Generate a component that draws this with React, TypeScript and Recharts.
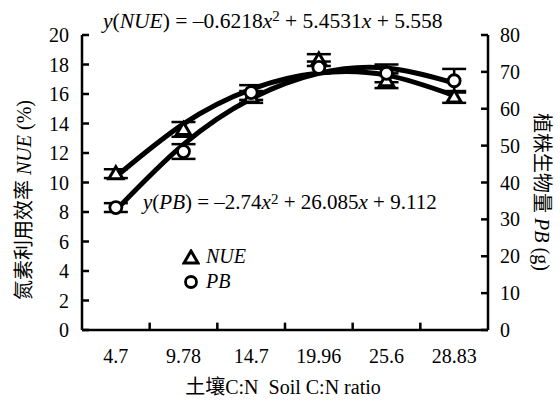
import React from 'react';
import {
  ComposedChart, Line, Scatter, XAxis, YAxis, ErrorBar, ReferenceLine, Legend, Customized,
} from 'recharts';

const categories = ['4.7', '9.78', '14.7', '19.96', '25.6', '28.83'];
const nueObserved = [10.6, 13.6, 15.8, 18.3, 16.9, 15.8];
const nueError = [0.3, 0.5, 0.4, 0.4, 0.5, 0.4];
const pbObserved = [33.2, 48.4, 64.4, 71.2, 69.6, 67.6];
const pbError = [1.2, 2.0, 2.0, 1.6, 2.4, 3.2];
const nueFit = [10.389, 13.976, 16.32, 17.42, 17.277, 15.89];
const pbFit = [32.457, 50.322, 62.707, 69.612, 71.037, 66.982];
const leftTicks = [0, 2, 4, 6, 8, 10, 12, 14, 16, 18, 20];
const rightTicks = [0, 10, 20, 30, 40, 50, 60, 70, 80];
const xTicks = [1, 2, 3, 4, 5, 6];
const boundaries = [1.5, 2.5, 3.5, 4.5, 5.5];

const rows = categories.map((c, i) => ({
  idx: i + 1,
  label: c,
  nue: nueObserved[i],
  nueErr: nueError[i],
  pb: pbObserved[i],
  pbErr: pbError[i],
  nueFit: nueFit[i],
  pbFit: pbFit[i],
}));

const SERIF = '"Liberation Serif", "DejaVu Serif", serif';
const CJK = '"Noto Sans CJK SC", sans-serif';

const Triangle = (props: any) => {
  const { cx, cy } = props;
  if (cx == null || cy == null) return null;
  return (
    <polygon
      points={`${cx},${cy - 7} ${cx - 7},${cy + 5} ${cx + 7},${cy + 5}`}
      fill="#fff" stroke="#000" strokeWidth={3} strokeLinejoin="miter"
    />
  );
};

const Circle = (props: any) => {
  const { cx, cy } = props;
  if (cx == null || cy == null) return null;
  return <circle cx={cx} cy={cy} r={6} fill="#fff" stroke="#000" strokeWidth={2.8} />;
};

const LegendContent = () => (
  <div style={{ fontFamily: SERIF, fontSize: 20, fontStyle: 'italic', lineHeight: '25px', color: '#000' }}>
    <div style={{ display: 'flex', alignItems: 'center' }}>
      <svg width={18} height={16} style={{ marginRight: 6 }}>
        <polygon points="9,2 2,14 16,14" fill="#fff" stroke="#000" strokeWidth={3} />
      </svg>
      <span>NUE</span>
    </div>
    <div style={{ display: 'flex', alignItems: 'center' }}>
      <svg width={18} height={16} style={{ marginRight: 6 }}>
        <circle cx={9} cy={8} r={5.5} fill="#fff" stroke="#000" strokeWidth={2.8} />
      </svg>
      <span>PB</span>
    </div>
  </div>
);

const pre = { whiteSpace: 'pre' as const };

const Annotations = () => (
  <g>
    <text x={103} y={28} fill="#000" fontFamily={SERIF} fontSize={21.5} style={pre}>
      <tspan fontStyle="italic">y</tspan>(<tspan fontStyle="italic">NUE</tspan>) = –0.6218<tspan fontStyle="italic">x</tspan>
      <tspan fontSize={15} dy={-7}>2</tspan>
      <tspan dy={7}> + 5.4531</tspan><tspan fontStyle="italic">x</tspan> + 5.558
    </text>
    <text x={143} y={209} fill="#000" fontFamily={SERIF} fontSize={21} style={pre}>
      <tspan fontStyle="italic">y</tspan>(<tspan fontStyle="italic">PB</tspan>) = –2.74<tspan fontStyle="italic">x</tspan>
      <tspan fontSize={15} dy={-5}>2</tspan>
      <tspan dy={5}> + 26.085</tspan><tspan fontStyle="italic">x</tspan> + 9.112
    </text>
    <text x={31} y={200} fill="#000" textAnchor="middle" transform="rotate(-90 31 200)" fontSize={20} style={pre}>
      <tspan fontFamily={CJK}>氮素利用效率</tspan>
      <tspan fontFamily={SERIF} fontStyle="italic"> NUE</tspan>
      <tspan fontFamily={SERIF}> (%)</tspan>
    </text>
    <text x={535} y={192} fill="#000" textAnchor="middle" transform="rotate(90 535 192)" fontSize={20} style={pre}>
      <tspan fontFamily={CJK}>植株生物量</tspan>
      <tspan fontFamily={SERIF} fontStyle="italic"> PB</tspan>
      <tspan fontFamily={SERIF}> (g)</tspan>
    </text>
    <text x={283} y={394} fill="#000" textAnchor="middle" fontSize={20} style={pre}>
      <tspan fontFamily={CJK}>土壤</tspan>
      <tspan fontFamily={SERIF}>C:N  Soil C:N ratio</tspan>
    </text>
  </g>
);

const tickStyle = { fontSize: 20, fill: '#000', fontFamily: SERIF };
const axisLineStyle = { stroke: '#000', strokeWidth: 2.5 };

export default function App() {
  return (
    <div style={{ position: 'absolute', left: 0, top: 0, background: '#fff' }}>
      <ComposedChart width={560} height={408} data={rows} margin={{ top: 35, right: 0, bottom: 0, left: 0 }}>
        <XAxis
          dataKey="idx" type="number" domain={[0.5, 6.5]} ticks={xTicks} interval={0}
          tickFormatter={(v: number) => categories[v - 1]}
          height={78} tickLine={false} axisLine={axisLineStyle} tick={tickStyle} tickMargin={13}
        />
        <YAxis
          yAxisId="l" domain={[0, 20]} ticks={leftTicks} interval={0} width={82}
          tick={tickStyle} axisLine={axisLineStyle}
          tickLine={{ stroke: '#000', strokeWidth: 2.5 }} tickSize={-7} tickMargin={20}
        />
        <YAxis
          yAxisId="r" orientation="right" domain={[0, 80]} ticks={rightTicks} interval={0} width={72}
          tick={tickStyle} axisLine={axisLineStyle}
          tickLine={{ stroke: '#000', strokeWidth: 2.5 }} tickSize={-7} tickMargin={19}
        />
        {boundaries.map((b) => (
          <ReferenceLine
            key={b} yAxisId="l"
            segment={[{ x: b, y: 0 }, { x: b, y: 0.5 }]}
            stroke="#000" strokeWidth={2.5}
          />
        ))}
        <Line yAxisId="l" dataKey="nueFit" type="natural" stroke="#000" strokeWidth={5} dot={false} isAnimationActive={false} legendType="none" />
        <Line yAxisId="r" dataKey="pbFit" type="natural" stroke="#000" strokeWidth={5} dot={false} isAnimationActive={false} legendType="none" />
        <Scatter yAxisId="l" dataKey="nue" shape={Triangle} isAnimationActive={false}>
          <ErrorBar dataKey="nueErr" direction="y" width={12} strokeWidth={2.5} stroke="#000" />
        </Scatter>
        <Scatter yAxisId="r" dataKey="pb" shape={Circle} isAnimationActive={false}>
          <ErrorBar dataKey="pbErr" direction="y" width={12} strokeWidth={2.5} stroke="#000" />
        </Scatter>
        <Legend
          content={<LegendContent />}
          layout="vertical"
          align="center"
          verticalAlign="middle"
          wrapperStyle={{ position: 'absolute', left: 182, top: 244, width: 100 }}
        />
        <Customized component={<Annotations />} />
      </ComposedChart>
    </div>
  );
}
